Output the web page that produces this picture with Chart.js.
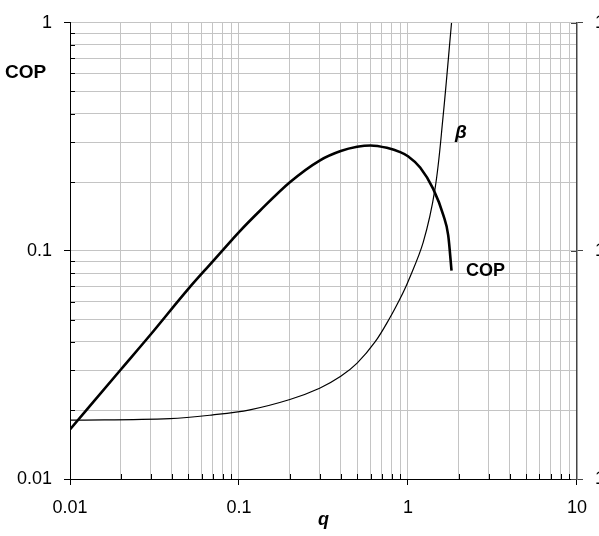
<!DOCTYPE html>
<html>
<head>
<meta charset="utf-8">
<script src="https://cdn.jsdelivr.net/npm/chart.js@4/dist/chart.umd.min.js"></script>
<style>
  html, body { margin: 0; padding: 0; background: #fff; }
  #wrap { width: 599px; height: 536px; }
</style>
</head>
<body>
<div id="wrap"><canvas id="grafico" width="599" height="536"></canvas></div>
<script>
// dados (escala log-log)
const qCOP = [0.01, 0.02, 0.03, 0.05, 0.07, 0.09, 0.1, 0.133, 0.2, 0.3, 0.4, 0.5, 0.6, 0.75, 0.9, 1.0, 1.18, 1.41, 1.62, 1.73, 1.81];
const valCOP = [0.0165, 0.0302, 0.043, 0.068, 0.090, 0.111, 0.121, 0.150, 0.2, 0.249, 0.274, 0.286, 0.29, 0.283, 0.271, 0.26, 0.232, 0.187, 0.143, 0.117, 0.082];

const qBeta = [0.01, 0.039, 0.07, 0.116, 0.2, 0.3, 0.4, 0.5, 0.64, 0.78, 0.9, 1.0, 1.23, 1.445, 1.61, 1.81];
const valBeta = [0.0181, 0.0184, 0.0191, 0.0201, 0.0223, 0.025, 0.0282, 0.0322, 0.0400, 0.0508, 0.062, 0.0733, 0.109, 0.187, 0.383, 1.0];

// rótulos dos eixos
const xDecadas = [0.01, 0.1, 1, 10];
const xRotulos = ['0.01', '0.1', '1', '10'];
const yDecadas = [0.01, 0.1, 1];
const yRotulos = ['0.01', '0.1', '1'];
const y2Rotulos = ['1', '1', '1'];

const fonte = 'Arial, "Liberation Sans", sans-serif';

function ehDecada(v) {
    const l = Math.log10(v);
    return Math.abs(l - Math.round(l)) < 1e-9;
}

// gera 1..9 x 10^n entre as decadas (marcas e linhas de grade)
function ticksLog(decadas) {
    const t = [];
    for (let i = 0; i < decadas.length - 1; i++) {
        for (let m = 1; m < 10; m++) t.push({ value: m * decadas[i] });
    }
    t.push({ value: decadas[decadas.length - 1] });
    return t;
}

function rotulo(decadas, rotulos) {
    return (v) => {
        const i = decadas.findIndex(d => Math.abs(d - v) / d < 1e-9);
        return i >= 0 ? rotulos[i] : '';
    };
}

// marcas menores para dentro da area + textos soltos
const extras = {
    id: 'extras',
    afterDraw(chart) {
        const { ctx, chartArea: a, scales: { x, y, y2 } } = chart;
        ctx.save();
        ctx.strokeStyle = '#000';
        ctx.lineWidth = 1;
        ctx.beginPath();
        x.ticks.forEach(t => {
            if (ehDecada(t.value)) return;
            const px = Math.round(x.getPixelForValue(t.value)) + 0.5;
            ctx.moveTo(px, a.bottom);
            ctx.lineTo(px, a.bottom - 5);
        });
        y.ticks.forEach(t => {
            if (ehDecada(t.value)) return;
            const py = Math.round(y.getPixelForValue(t.value)) + 0.5;
            ctx.moveTo(a.left, py);
            ctx.lineTo(a.left + 5, py);
        });
        ctx.stroke();

        // marcas do eixo direito cruzam o eixo
        ctx.strokeStyle = '#444';
        ctx.beginPath();
        y2.ticks.forEach(t => {
            const py = Math.round(y2.getPixelForValue(t.value)) + 0.5;
            ctx.moveTo(a.right, py);
            ctx.lineTo(a.right - 6, py);
        });
        ctx.stroke();

        ctx.fillStyle = '#000';
        ctx.textBaseline = 'middle';
        ctx.textAlign = 'left';
        ctx.font = 'bold 19px ' + fonte;
        ctx.fillText('COP', 5, 73);
        ctx.font = 'bold 18px ' + fonte;
        ctx.fillText('COP', 466, 271);
        ctx.font = 'italic bold 19px ' + fonte;
        ctx.fillText('\u03B2', 455, 133);
        ctx.restore();
    }
};

const ctxGrafico = document.getElementById('grafico').getContext('2d');
const grafico = new Chart(ctxGrafico, {
    type: 'line',
    data: {
        datasets: [{
            label: 'COP',
            data: qCOP.map((q, i) => ({ x: q, y: valCOP[i] })),
            borderColor: '#000',
            borderWidth: 2.6,
            pointRadius: 0,
            cubicInterpolationMode: 'monotone',
            yAxisID: 'y'
        }, {
            label: 'beta',
            data: qBeta.map((q, i) => ({ x: q, y: valBeta[i] })),
            borderColor: '#000',
            borderWidth: 1.2,
            pointRadius: 0,
            tension: 0.35,
            yAxisID: 'y'
        }]
    },
    options: {
        responsive: false,
        animation: false,
        layout: { padding: { top: 19, left: 0, right: 0, bottom: 0 } },
        plugins: { legend: { display: false }, tooltip: { enabled: false } },
        scales: {
            x: {
                type: 'logarithmic',
                min: 0.01, max: 10,
                afterBuildTicks: s => { s.ticks = ticksLog(xDecadas); },
                afterFit: s => { s.height = 57; },
                grid: {
                    color: '#c4c4c4',
                    tickLength: 6,
                    tickColor: c => (c.tick && ehDecada(c.tick.value)) ? '#000' : 'transparent'
                },
                border: { color: '#000', width: 1 },
                ticks: {
                    autoSkip: false, maxRotation: 0, padding: 12,
                    color: '#000',
                    font: { family: fonte, size: 18 },
                    callback: rotulo(xDecadas, xRotulos)
                },
                title: {
                    display: true, text: 'q', color: '#000',
                    font: { family: fonte, size: 18, weight: 'bold', style: 'italic' },
                    padding: { top: 0, bottom: 5 }
                }
            },
            y: {
                type: 'logarithmic',
                position: 'left',
                min: 0.01, max: 1,
                afterBuildTicks: s => { s.ticks = ticksLog(yDecadas); },
                afterFit: s => { s.width = 70; },
                grid: {
                    color: '#c4c4c4',
                    tickLength: 6,
                    tickColor: c => (c.tick && ehDecada(c.tick.value)) ? '#000' : 'transparent'
                },
                border: { color: '#000', width: 1 },
                ticks: {
                    autoSkip: false, padding: 12,
                    color: '#000',
                    font: { family: fonte, size: 18 },
                    callback: rotulo(yDecadas, yRotulos)
                }
            },
            y2: {
                type: 'logarithmic',
                position: 'right',
                min: 0.01, max: 1,
                afterBuildTicks: s => { s.ticks = yDecadas.map(v => ({ value: v })); },
                afterFit: s => { s.width = 22; },
                grid: { drawOnChartArea: false, tickLength: 6, tickColor: '#444' },
                border: { color: '#444', width: 1.5 },
                ticks: {
                    autoSkip: false, padding: 12,
                    color: '#000',
                    font: { family: fonte, size: 18 },
                    callback: rotulo(yDecadas, y2Rotulos)
                }
            }
        }
    },
    plugins: [extras]
});
</script>
</body>
</html>
